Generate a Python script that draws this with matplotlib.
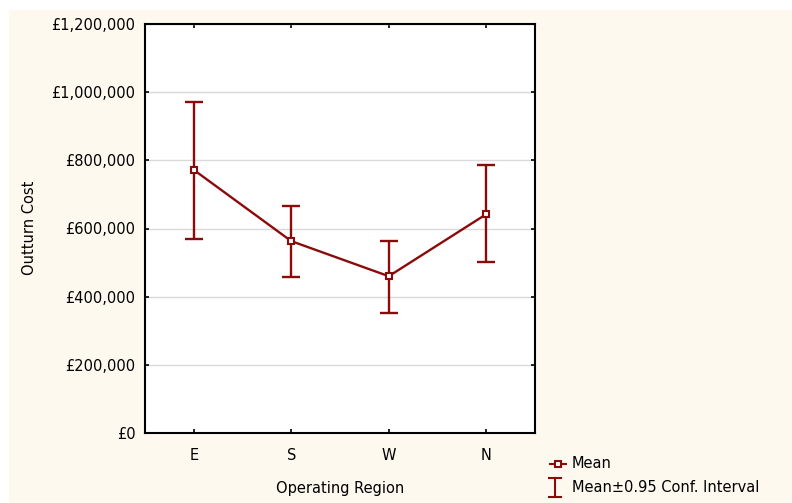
"""Mean outturn cost by operating region with 0.95 confidence intervals."""

import matplotlib

matplotlib.use("Agg")

import matplotlib.pyplot as plt
from matplotlib.lines import Line2D
from matplotlib.patches import Rectangle
from matplotlib.ticker import FuncFormatter

REGIONS = ["E", "S", "W", "N"]
MEAN_COST = [772000, 563000, 460000, 642000]
CI_LOWER = [569000, 458000, 352000, 502000]
CI_UPPER = [971000, 666000, 563000, 786000]
Y_TICKS = [0, 200000, 400000, 600000, 800000, 1000000, 1200000]

DARK_RED = "#8b0a0a"
CREAM = "#fdf9ef"
FONT_SIZE = 10.5

plt.rcParams["font.family"] = ["DejaVu Sans"]
plt.rcParams["font.size"] = FONT_SIZE

fig = plt.figure(figsize=(7.92, 5.03), dpi=100, facecolor="white")
W, H = 792, 503
fig.patches.append(
    Rectangle((9 / W, 0), 1 - 9 / W, 1 - 10 / H, transform=fig.transFigure,
              facecolor=CREAM, edgecolor="none", zorder=-10)
)

ax = fig.add_axes([145 / W, 1 - 433 / H, 390 / W, 409 / H])
ax.set_facecolor("white")

x = list(range(len(REGIONS)))
yerr = [
    [m - lo for m, lo in zip(MEAN_COST, CI_LOWER)],
    [hi - m for m, hi in zip(MEAN_COST, CI_UPPER)],
]
ax.errorbar(x, MEAN_COST, yerr=yerr, fmt="none", ecolor=DARK_RED,
            elinewidth=1.7, capsize=6.5, capthick=1.7, zorder=3)
ax.plot(x, MEAN_COST, color=DARK_RED, linewidth=1.7, marker="s",
        markersize=5, markerfacecolor="white", markeredgecolor=DARK_RED,
        markeredgewidth=1.5, zorder=4)

ax.set_xlim(-0.5, len(REGIONS) - 0.5)
ax.set_ylim(0, 1200000)
ax.set_xticks(x)
ax.set_xticklabels(REGIONS)
ax.set_yticks(Y_TICKS)
ax.yaxis.set_major_formatter(FuncFormatter(lambda v, _: f"£{v:,.0f}"))
ax.grid(axis="y", color="#d9d9d9", linewidth=1)
ax.set_axisbelow(True)
ax.tick_params(direction="in", length=3, width=1.2, top=True, right=True,
               labelsize=FONT_SIZE, colors="black")
ax.tick_params(axis="y", pad=7)
ax.tick_params(axis="x", pad=11)
for spine in ax.spines.values():
    spine.set_linewidth(1.5)

fig.text(30 / W, 1 - 228 / H, "Outturn Cost", rotation=90,
         ha="center", va="center")
fig.text(340 / W, 1 - 488 / H, "Operating Region", ha="center", va="center")

# legend drawn by hand to match the "I" style interval symbol
mean_y = 1 - 464 / H
fig.lines.append(Line2D([550 / W, 566 / W], [mean_y, mean_y],
                        transform=fig.transFigure, color=DARK_RED,
                        linewidth=1.5))
fig.lines.append(Line2D([558 / W], [mean_y], transform=fig.transFigure,
                        marker="s", markersize=5, markerfacecolor="white",
                        markeredgecolor=DARK_RED, markeredgewidth=1.5,
                        linestyle="none"))
fig.text(572 / W, mean_y, "Mean", ha="left", va="center")

ci_top, ci_bot = 1 - 478 / H, 1 - 497 / H
ci_x = 555 / W
fig.lines.append(Line2D([ci_x, ci_x], [ci_bot, ci_top],
                        transform=fig.transFigure, color=DARK_RED,
                        linewidth=1.5))
for yy in (ci_top, ci_bot):
    fig.lines.append(Line2D([ci_x - 6 / W, ci_x + 6 / W], [yy, yy],
                            transform=fig.transFigure, color=DARK_RED,
                            linewidth=1.5))
fig.text(572 / W, 1 - 487 / H, "Mean±0.95 Conf. Interval",
         ha="left", va="center")

fig.savefig("out.png", dpi=100, facecolor=fig.get_facecolor())
